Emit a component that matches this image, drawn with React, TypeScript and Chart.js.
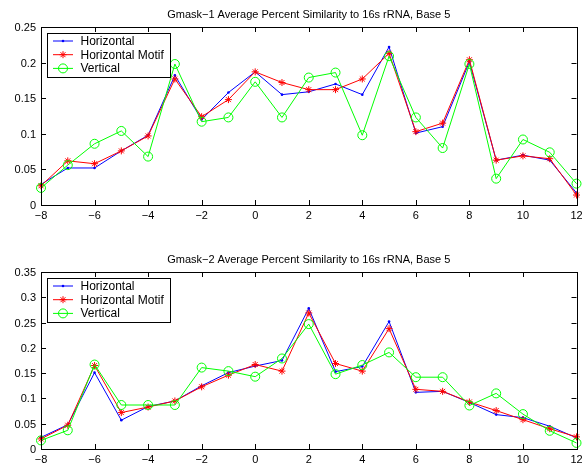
import React, { useEffect, useRef } from 'react';
import { Chart, registerables } from 'chart.js';

Chart.register(...registerables);

// Offset positions along the sequence (x axis)
const positions = [-8, -7, -6, -5, -4, -3, -2, -1, 0, 1, 2, 3, 4, 5, 6, 7, 8, 9, 10, 11, 12];

// Gmask-1 series
const gmask1Horizontal = [0.029, 0.052, 0.052, 0.076, 0.098, 0.182, 0.120, 0.158, 0.187, 0.155, 0.159, 0.170, 0.155, 0.222, 0.101, 0.110, 0.201, 0.063, 0.070, 0.063, 0.017];
const gmask1Motif = [0.027, 0.062, 0.058, 0.076, 0.097, 0.177, 0.124, 0.148, 0.187, 0.172, 0.162, 0.162, 0.177, 0.213, 0.103, 0.115, 0.204, 0.063, 0.069, 0.065, 0.014];
const gmask1Vertical = [0.024, 0.056, 0.086, 0.104, 0.068, 0.198, 0.117, 0.123, 0.173, 0.123, 0.179, 0.186, 0.098, 0.209, 0.123, 0.080, 0.198, 0.037, 0.092, 0.074, 0.030];

// Gmask-2 series
const gmask2Horizontal = [0.023, 0.048, 0.151, 0.057, 0.084, 0.095, 0.125, 0.151, 0.164, 0.175, 0.278, 0.153, 0.163, 0.252, 0.112, 0.114, 0.092, 0.068, 0.062, 0.045, 0.022];
const gmask2Motif = [0.020, 0.047, 0.165, 0.072, 0.083, 0.095, 0.123, 0.146, 0.167, 0.154, 0.269, 0.169, 0.154, 0.238, 0.118, 0.114, 0.093, 0.076, 0.058, 0.040, 0.024];
const gmask2Vertical = [0.017, 0.037, 0.167, 0.087, 0.087, 0.087, 0.161, 0.154, 0.143, 0.179, 0.247, 0.148, 0.166, 0.191, 0.142, 0.142, 0.086, 0.110, 0.069, 0.036, 0.012];

// Tick values
const xTicks = [-8, -6, -4, -2, 0, 2, 4, 6, 8, 10, 12];
const yTicks1 = [0, 0.05, 0.1, 0.15, 0.2, 0.25];
const yTicks2 = [0, 0.05, 0.1, 0.15, 0.2, 0.25, 0.3, 0.35];

const seriesNames = ['Horizontal', 'Horizontal Motif', 'Vertical'];
const title1 = 'Gmask\u22121 Average Percent Similarity to 16s rRNA, Base 5';
const title2 = 'Gmask\u22122 Average Percent Similarity to 16s rRNA, Base 5';

const FAMILY = '"Liberation Sans", Arial, Helvetica, sans-serif';
const FONT = '11px ' + FAMILY;
const LEGEND_FONT = '12px ' + FAMILY;
const BLUE = '#0000ff';
const RED = '#ff0000';
const GREEN = '#00ff00';

const fmtX = (v: number) => (v < 0 ? '\u2212' + Math.abs(v) : String(v));
const fmtY = (v: number) => String(parseFloat(v.toFixed(2)));

function drawMarker(ctx: CanvasRenderingContext2D, kind: number, x: number, y: number) {
  ctx.save();
  ctx.lineWidth = 1;
  if (kind === 0) {
    ctx.fillStyle = BLUE;
    ctx.beginPath();
    ctx.arc(x, y, 1.3, 0, Math.PI * 2);
    ctx.fill();
  } else if (kind === 1) {
    ctx.strokeStyle = RED;
    const r = 3.5;
    const d = r * Math.SQRT1_2;
    ctx.beginPath();
    ctx.moveTo(x - r, y); ctx.lineTo(x + r, y);
    ctx.moveTo(x, y - r); ctx.lineTo(x, y + r);
    ctx.moveTo(x - d, y - d); ctx.lineTo(x + d, y + d);
    ctx.moveTo(x - d, y + d); ctx.lineTo(x + d, y - d);
    ctx.stroke();
  } else {
    ctx.strokeStyle = GREEN;
    ctx.beginPath();
    ctx.arc(x, y, 4.5, 0, Math.PI * 2);
    ctx.stroke();
  }
  ctx.restore();
}

// Boxed axes with inward ticks on all four sides, title and legend
const boxAxesPlugin = {
  id: 'boxAxes',
  afterDraw(chart: any, _args: any, opts: any) {
    const ctx: CanvasRenderingContext2D = chart.ctx;
    const { left, right, top, bottom } = chart.chartArea;
    const xs = chart.scales.x;
    const ys = chart.scales.y;
    const tl = 5;
    ctx.save();
    ctx.strokeStyle = '#000';
    ctx.lineWidth = 1;
    ctx.strokeRect(Math.round(left) + 0.5, Math.round(top) + 0.5, Math.round(right - left), Math.round(bottom - top));

    ctx.beginPath();
    for (const v of opts.xTicks as number[]) {
      const px = Math.round(xs.getPixelForValue(v)) + 0.5;
      ctx.moveTo(px, bottom); ctx.lineTo(px, bottom - tl);
      ctx.moveTo(px, top); ctx.lineTo(px, top + tl);
    }
    for (const v of opts.yTicks as number[]) {
      const py = Math.round(ys.getPixelForValue(v)) + 0.5;
      ctx.moveTo(left, py); ctx.lineTo(left + tl, py);
      ctx.moveTo(right, py); ctx.lineTo(right - tl, py);
    }
    ctx.stroke();

    ctx.fillStyle = '#000';
    ctx.font = FONT;
    ctx.textAlign = 'center';
    ctx.textBaseline = 'alphabetic';
    for (const v of opts.xTicks as number[]) {
      ctx.fillText(fmtX(v), xs.getPixelForValue(v), bottom + 14);
    }
    ctx.textAlign = 'right';
    ctx.textBaseline = 'middle';
    for (const v of opts.yTicks as number[]) {
      ctx.fillText(fmtY(v), left - 5, ys.getPixelForValue(v) + 1);
    }

    ctx.textAlign = 'center';
    ctx.textBaseline = 'alphabetic';
    ctx.fillText(opts.title, (left + right) / 2, top - 9);

    // legend
    const lx = left + 6;
    const ly = top + 6;
    ctx.fillStyle = '#fff';
    ctx.fillRect(lx, ly, 123, 44);
    ctx.strokeStyle = '#000';
    ctx.strokeRect(Math.round(lx) + 0.5, Math.round(ly) + 0.5, 123, 44);
    const colors = [BLUE, RED, GREEN];
    ctx.font = LEGEND_FONT;
    seriesNames.forEach((name, i) => {
      const ry = ly + 8 + i * 13.7;
      ctx.strokeStyle = colors[i];
      ctx.lineWidth = 1;
      ctx.beginPath();
      ctx.moveTo(lx + 6, ry); ctx.lineTo(lx + 26, ry);
      ctx.stroke();
      drawMarker(ctx, i, lx + 16, ry);
      ctx.fillStyle = '#000';
      ctx.textAlign = 'left';
      ctx.textBaseline = 'middle';
      ctx.fillText(name, lx + 33.5, ry + 0.5);
    });
    ctx.restore();
  },
};

function toPoints(values: number[]) {
  return values.map((y, i) => ({ x: positions[i], y }));
}

function makeDatasets(h: number[], m: number[], v: number[]) {
  return [
    {
      label: seriesNames[0], data: toPoints(h), borderColor: BLUE, backgroundColor: BLUE,
      borderWidth: 1, pointStyle: 'circle', pointRadius: 1.3, pointBorderWidth: 0, order: 2, clip: false,
    },
    {
      label: seriesNames[1], data: toPoints(m), borderColor: RED, backgroundColor: RED,
      borderWidth: 1, pointStyle: 'star', pointRadius: 3.5, pointBorderWidth: 1, order: 1, clip: false,
    },
    {
      label: seriesNames[2], data: toPoints(v), borderColor: GREEN, backgroundColor: 'rgba(0,0,0,0)',
      borderWidth: 1, pointStyle: 'circle', pointRadius: 4.5, pointBorderWidth: 1, order: 0, clip: false,
    },
  ];
}

type PanelProps = {
  width: number;
  height: number;
  padTop: number;
  padBottom: number;
  yMax: number;
  yTicks: number[];
  title: string;
  h: number[];
  m: number[];
  v: number[];
};

function Panel(p: PanelProps) {
  const ref = useRef<HTMLCanvasElement | null>(null);
  useEffect(() => {
    if (!ref.current) return;
    const chart = new Chart(ref.current, {
      type: 'line',
      data: { datasets: makeDatasets(p.h, p.m, p.v) as any },
      options: {
        animation: false,
        responsive: false,
        devicePixelRatio: 1,
        layout: { padding: { left: 41, right: 5, top: p.padTop, bottom: p.padBottom } },
        elements: { line: { tension: 0 } },
        scales: {
          x: { type: 'linear', min: -8, max: 12, display: false },
          y: { type: 'linear', min: 0, max: p.yMax, display: false },
        },
        plugins: {
          legend: { display: false },
          tooltip: { enabled: false },
          boxAxes: { xTicks, yTicks: p.yTicks, title: p.title },
        } as any,
      },
      plugins: [boxAxesPlugin],
    });
    return () => chart.destroy();
  }, []);
  return (
    <canvas
      ref={ref}
      width={p.width}
      height={p.height}
      style={{ display: 'block', width: p.width, height: p.height }}
    />
  );
}

export default function App() {
  return (
    <div style={{ position: 'absolute', left: 0, top: 0, width: 582, height: 469, background: '#fff' }}>
      <div style={{ position: 'absolute', left: 0, top: 0 }}>
        <Panel width={582} height={234} padTop={27} padBottom={29} yMax={0.25} yTicks={yTicks1}
          title={title1} h={gmask1Horizontal} m={gmask1Motif} v={gmask1Vertical} />
      </div>
      <div style={{ position: 'absolute', left: 0, top: 234 }}>
        <Panel width={582} height={235} padTop={38} padBottom={20} yMax={0.35} yTicks={yTicks2}
          title={title2} h={gmask2Horizontal} m={gmask2Motif} v={gmask2Vertical} />
      </div>
    </div>
  );
}
